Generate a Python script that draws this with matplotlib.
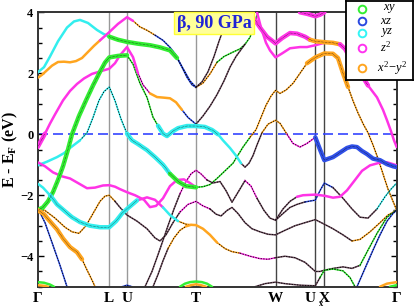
import numpy as np
import matplotlib
matplotlib.use("Agg")
import matplotlib.pyplot as plt

plt.rcParams['font.family'] = ['Liberation Serif', 'DejaVu Serif']
plt.rcParams['mathtext.fontset'] = 'custom'
plt.rcParams['mathtext.rm'] = 'Liberation Serif'
plt.rcParams['mathtext.it'] = 'Liberation Serif:italic'
plt.rcParams['mathtext.bf'] = 'Liberation Serif:bold'

# k-path (arbitrary path units) and labels
k_ticks = [37.7, 109.3, 127, 196, 275.5, 315.3, 324.3, 396.7]
k_labels = ['Γ', 'L', 'U', 'T', 'W', 'U', 'X', 'Γ']

# bands: k positions, energies (eV) and orbital character runs (start k, code)
# code: upper case = fat, lower case = medium, 'x.' = thin mixed, 'k' = plain
band_a_k = [37.7, 44, 50, 58, 67, 74, 80, 88, 97, 103, 109.3, 118, 127, 138, 150, 160, 170, 177, 184, 190, 196,
            203, 210, 217, 224, 232, 240, 245, 250, 254, 258]
band_a_e = [2.03, 2.2, 2.55, 3.05, 3.5, 3.7, 3.75, 3.65, 3.42, 3.3, 3.2, 3.1, 3.03, 2.97, 2.92, 2.85, 2.75, 2.5, 2.1,
            1.75, 1.54, 1.68, 1.98, 2.36, 2.55, 2.68, 2.8, 2.95, 3.18, 3.55, 4.0]
band_a_c = [(37.7, 'c'), (109.3, 'G'), (172, 'b.'), (194, 'o.'), (215, 'g.')]

band_b_k = [37.7, 42, 47, 52, 58, 64, 70, 76, 82, 88, 94, 100, 109.3, 118, 127, 133, 140, 147, 155, 163, 170, 176,
            182, 187, 192, 196, 202, 208, 214, 219, 223, 228]
band_b_e = [1.85, 1.95, 2.1, 2.25, 2.37, 2.38, 2.36, 2.4, 2.5, 2.7, 2.9, 3.08, 3.35, 3.62, 3.84, 3.72, 3.52, 3.41,
            3.25, 3.08, 2.85, 2.6, 2.2, 1.87, 1.62, 1.54, 1.72, 2.05, 2.55, 3.05, 3.41, 4.0]
band_b_c = [(37.7, 'o'), (100, 'm'), (130, 'o.'), (150, 'b.'), (196, 'k')]

band_c_k = [37.7, 41, 45, 50, 55, 63, 70, 77, 84, 92, 100, 109.3, 115, 120, 127, 133, 138, 143, 150, 157, 164, 170,
            176, 182, 188, 196, 203, 210, 217, 224, 230, 236, 242, 245]
band_c_e = [-0.42, -0.22, 0.02, 0.35, 0.65, 1.11, 1.42, 1.65, 1.83, 1.98, 2.06, 2.15, 2.33, 2.59, 2.86, 2.53, 2.0,
            1.62, 1.34, 1.22, 1.2, 1.18, 1.05, 0.8, 0.55, 0.33, 0.6, 0.92, 1.3, 1.75, 2.2, 2.55, 2.82, 2.95]
band_c_c = [(37.7, 'M'), (43, 'm'), (135, 'm.'), (145, 'o'), (178, 'b.'), (196, 'k')]

band_d_k = [37.7, 43, 48, 53, 58, 63, 68, 72, 79, 86, 93, 100, 105, 109.3, 118, 127, 133, 140, 147, 153, 158, 163,
            167, 172, 178, 187, 196, 205, 212, 218, 223, 230, 236, 241, 245, 249, 253, 257, 262, 268, 275.5, 280,
            287, 293, 300, 307, 315.3, 320, 324.3, 333, 340, 347, 352, 357, 362, 367, 373, 380, 387, 393, 396.7]
band_d_e = [-2.49, -2.4, -2.2, -1.9, -1.5, -1.05, -0.5, 0.0, 0.6, 1.11, 1.6, 2.05, 2.35, 2.52, 2.57, 2.59, 2.3,
            1.67, 1.21, 0.56, 0.28, 0.02, -0.06, 0.08, 0.2, 0.27, 0.27, 0.24, 0.14, 0.0, -0.2, -0.45, -0.7, -0.95,
            -1.08, -0.95, -0.7, -0.35, 0.05, 0.33, 0.46, 0.36, 0.0, -0.3, -0.42, -0.3, -0.1, -0.5, -0.85, -0.75,
            -0.6, -0.45, -0.4, -0.42, -0.55, -0.65, -0.8, -0.85, -0.98, -1.05, -1.08]
band_d_c = [(37.7, 'G'), (127, 'g.'), (158, 'C'), (218, 'c'), (241, 'k'), (260, 'o.'), (285, 'm.'), (315.3, 'B')]

band_e_k = [37.7, 47, 57, 64, 70, 76, 80, 87, 93, 99, 104, 109.3, 115, 121, 127, 132, 137, 147, 155, 163, 170, 178,
            186, 196, 203, 210, 217, 225, 233, 243, 250, 256, 261, 266, 271, 275.5, 280, 286, 293, 300, 307, 315.3,
            324.3, 333, 338, 343, 348, 353, 358, 363, 368, 373, 378, 383, 388, 393, 396.7]
band_e_e = [-1.02, -0.9, -0.75, -0.62, -0.45, -0.3, -0.2, 0.05, 0.55, 1.11, 1.4, 1.55, 1.1, 0.5, 0.02, -0.2, -0.3,
            -0.52, -0.75, -1.0, -1.3, -1.55, -1.7, -1.74, -1.72, -1.65, -1.45, -1.2, -0.95, -0.42, -0.1, 0.15,
            0.55, 0.95, 1.25, 1.44, 1.34, 1.45, 1.67, 2.0, 2.33, 2.52, 2.65, 2.64, 2.5, 2.0, 1.55, 1.1, 0.7, 0.35,
            0.05, -0.35, -0.8, -1.3, -1.8, -2.2, -2.49]
band_e_c = [(37.7, 'c'), (78, 'c.'), (125, 'C'), (168, 'G'), (196, 'g.'), (245, 'o.'), (305, 'O'), (348, 'o.')]

band_f_k = [37.7, 45, 53, 62, 70, 78, 87, 95, 103, 109.3, 115, 120, 127, 135, 144, 150, 156, 163, 170, 177, 184,
            190, 196]
band_f_e = [-0.92, -1.05, -1.25, -1.38, -1.45, -1.6, -1.77, -1.75, -1.68, -1.67, -1.72, -1.8, -1.9, -2.0, -2.15,
            -2.39, -2.35, -2.1, -1.7, -1.5, -1.48, -1.6, -1.74]
band_f_c = [(37.7, 'm')]

band_s_k = [145, 152, 158, 163, 168, 174, 180, 186, 191, 196, 201, 207, 213, 220, 226, 232, 239, 245, 251, 257,
            264, 270, 275.5, 283, 290, 297, 305, 315.3, 320, 324.3, 333, 343, 352, 360, 368, 377, 385, 391, 396.7]
band_s_e = [-5.0, -4.5, -3.95, -3.48, -3.0, -2.45, -1.95, -1.55, -1.3, -1.18, -1.3, -1.5, -1.6, -1.55, -1.85,
            -2.23, -1.85, -1.52, -1.7, -2.1, -2.5, -2.75, -2.82, -2.6, -2.4, -2.3, -2.22, -2.16, -1.85, -1.6,
            -1.75, -2.1, -2.45, -2.72, -2.75, -2.45, -2.05, -1.8, -1.6]
band_s_c = [(145, 'k'), (180, 'm.'), (205, 'k'), (240, 'm.'), (255, 'k'), (305, 'b.'), (330, 'k'), (377, 'c.')]

band_r_k = [275.5, 283, 290, 297, 303, 315.3, 325, 333, 340, 347, 355, 362, 370, 380, 387, 393, 396.7]
band_r_e = [-2.82, -2.45, -2.2, -2.05, -2.0, -1.98, -2.02, -2.08, -2.05, -1.84, -1.5, -1.2, -1.02, -0.93, -0.92,
            -0.98, -1.02]
band_r_c = [(275.5, 'k'), (297, 'm')]

band_g_k = [37.7, 45, 55, 65, 72, 79, 86, 93, 100, 105, 109.3, 115, 120, 127, 137, 147, 155, 160, 166, 173, 180,
            188, 196, 203, 210, 216, 221, 227, 232, 238, 245, 252, 260, 268, 275.5, 285, 295, 305, 315.3, 324.3,
            333, 343, 352, 360, 370, 380, 388, 396.7]
band_g_e = [-2.42, -2.5, -2.75, -3.05, -3.2, -3.25, -3.0, -2.6, -2.2, -2.03, -2.0, -2.2, -2.4, -2.65, -2.85, -3.1,
            -3.4, -3.5, -3.3, -2.9, -2.55, -2.3, -2.2, -2.35, -2.45, -2.62, -2.68, -2.5, -2.4, -2.6, -2.9, -3.1,
            -3.2, -3.28, -3.3, -3.15, -3.0, -2.9, -2.8, -2.95, -3.1, -3.3, -3.5, -3.45, -3.2, -2.9, -2.65, -2.49]
band_g_c = [(37.7, 'o.'), (115, 'k'), (180, 'm.'), (205, 'k'), (352, 'o.')]

band_h_k = [153, 158, 163, 168, 174, 180, 186, 191, 196, 203, 210, 217, 225, 232, 240, 250, 260, 268, 275.5, 285,
            295, 305, 315.3, 320, 324.3, 333, 343, 352, 360, 368, 377, 387, 396.7]
band_h_e = [-5.0, -4.6, -4.15, -3.75, -3.4, -3.15, -3.02, -2.97, -2.98, -3.1, -3.3, -3.55, -3.75, -3.85, -3.9, -4.0,
            -4.08, -4.1, -4.05, -4.0, -4.05, -4.2, -4.5, -4.5, -4.46, -4.4, -4.35, -4.4, -4.3, -3.8, -3.25, -2.72,
            -2.49]
band_h_c = [(153, 'k'), (168, 'o.'), (186, 'o'), (215, 'o.'), (237, 'm.'), (275.5, 'k'), (360, 'g.')]

band_n_k = [37.7, 43, 50, 57, 64, 72, 80, 90, 100, 109.3, 116, 122, 127, 137, 147, 155, 163, 170, 178, 186, 196]
band_n_e = [-1.62, -1.75, -2.0, -2.3, -2.5, -2.72, -2.88, -3.0, -3.05, -3.05, -2.85, -2.6, -2.45, -2.17, -2.07,
            -2.15, -2.4, -2.65, -2.85, -2.95, -2.98]
band_n_c = [(37.7, 'c'), (45, 'C'), (137, 'm'), (160, 'c'), (178, 'o.')]

band_k_k = [37.7, 45, 52, 60, 67]
band_k_e = [-2.42, -2.9, -3.55, -4.3, -5.0]
band_k_c = [(37.7, 'b.')]

band_o_k = [37.7, 44, 48, 57, 63, 70, 77, 82, 87, 93, 95]
band_o_e = [-2.49, -2.62, -2.78, -3.12, -3.42, -3.7, -3.87, -4.1, -4.45, -4.85, -5.0]
band_o_c = [(37.7, 'O'), (80, 'o.')]

band_m1_k = [250, 255, 260, 267, 275.5, 282, 290, 297, 305, 310, 315.3, 324.3, 333, 340, 345, 352, 360, 368, 377,
             383, 387, 391, 394, 396.7]
band_m1_e = [4.0, 3.75, 3.5, 3.2, 2.98, 3.15, 3.32, 3.3, 3.2, 3.1, 3.05, 3.02, 3.0, 2.95, 2.8, 2.4, 2.03, 1.6, 1.21,
             0.8, 0.46, 0.1, -0.2, -0.42]
band_m1_c = [(250, 'M'), (310, 'O'), (338, 'M'), (365, 'm')]

band_m2_k = [257, 261, 266, 270, 275.5, 282, 290, 300, 307, 315.3, 324.3]
band_m2_e = [4.0, 3.5, 3.0, 2.75, 2.52, 2.65, 2.82, 2.86, 2.86, 2.92, 3.0]
band_m2_c = [(257, 'm')]

band_t_k = [300, 307, 315.3, 320, 324.3]
band_t_e = [4.0, 3.95, 3.87, 3.92, 4.0]
band_t_c = [(300, 'M')]

band_p_k = [255, 265, 275.5, 285, 300, 315.3, 320, 324.3, 333, 343, 350, 355]
band_p_e = [-5.0, -4.9, -4.85, -4.9, -4.95, -4.97, -4.7, -4.46, -4.42, -4.48, -4.7, -5.0]
band_p_c = [(255, 'k'), (320, 'g.')]

band_q_k = [357, 365, 373, 380, 387, 393, 396.7]
band_q_e = [-5.0, -4.4, -3.8, -3.3, -2.85, -2.6, -2.49]
band_q_c = [(357, 'b.')]

band_u_k = [122, 127, 132]
band_u_e = [-5.0, -4.95, -5.0]
band_u_c = [(122, 'b.')]

arc1_k = [180, 185, 190, 196, 202, 207, 212]
arc1_e = [-5.0, -4.9, -4.85, -4.83, -4.85, -4.9, -5.0]
arc1_c = [(180, 'g')]
arc2_k = [186, 191, 196, 201, 206]
arc2_e = [-5.0, -4.95, -4.92, -4.95, -5.0]
arc2_c = [(186, 'o')]
gb1_k = [37.7, 44, 50, 54]
gb1_e = [-4.85, -4.87, -4.93, -5.0]
gb1_c = [(37.7, 'g')]
gb2_k = [37.7, 44, 48]
gb2_e = [-4.95, -4.97, -5.0]
gb2_c = [(37.7, 'o')]
gb3_k = [380, 387, 396.7]
gb3_e = [-5.0, -4.9, -4.85]
gb3_c = [(380, 'o')]
gb4_k = [390, 396.7]
gb4_e = [-5.0, -4.95]
gb4_c = [(390, 'g')]

bands = [
    (band_a_k, band_a_e, band_a_c), (band_b_k, band_b_e, band_b_c), (band_c_k, band_c_e, band_c_c),
    (band_d_k, band_d_e, band_d_c), (band_e_k, band_e_e, band_e_c), (band_f_k, band_f_e, band_f_c),
    (band_s_k, band_s_e, band_s_c), (band_r_k, band_r_e, band_r_c), (band_g_k, band_g_e, band_g_c),
    (band_h_k, band_h_e, band_h_c), (band_n_k, band_n_e, band_n_c), (band_k_k, band_k_e, band_k_c),
    (band_o_k, band_o_e, band_o_c), (band_m1_k, band_m1_e, band_m1_c), (band_m2_k, band_m2_e, band_m2_c),
    (band_t_k, band_t_e, band_t_c), (band_p_k, band_p_e, band_p_c), (band_q_k, band_q_e, band_q_c),
    (band_u_k, band_u_e, band_u_c), (arc1_k, arc1_e, arc1_c), (arc2_k, arc2_e, arc2_c),
    (gb1_k, gb1_e, gb1_c), (gb2_k, gb2_e, gb2_c), (gb3_k, gb3_e, gb3_c), (gb4_k, gb4_e, gb4_c),
]

colors = {'g': '#33ee33', 'b': '#3050e8', 'c': '#33eeee', 'm': '#ff33e6', 'o': '#ffa51f', 'k': '#6a4a5a'}
orbitals = ['xy', 'xz', 'yz', 'z^2', 'x^2\\!-\\!y^2']
orbital_colors = ['#33ee33', '#2a48e0', '#33f5f5', '#ff33f0', '#ffa51f']

fig = plt.figure(figsize=(4.15, 3.08), dpi=100)
ax = fig.add_axes([37.7 / 415, 1 - 286.7 / 308, 359 / 415, 274.4 / 308])


def runs(k, style):
    codes = []
    for i in range(len(k) - 1):
        c = style[0][1]
        for start, code in style:
            if k[i] >= start - 1e-6:
                c = code
        codes.append(c)
    out = []
    i0 = 0
    for i in range(1, len(codes) + 1):
        if i == len(codes) or codes[i] != codes[i0]:
            out.append((i0, i, codes[i0]))
            i0 = i
    return out


# thin parts first, medium next, fat parts on top
for level in ('thin', 'medium', 'fat'):
    for k, e, style in bands:
        for i0, i1, code in runs(k, style):
            kk = k[i0:i1 + 1]
            ee = e[i0:i1 + 1]
            col = colors[code[0].lower()]
            if code[0].isupper():
                if level == 'fat':
                    ax.plot(kk, ee, color=col, lw=3.2, solid_capstyle='round', zorder=4)
                    ax.plot(kk, ee, color='k', lw=0.4, ls=(0, (1, 1.5)), zorder=5)
            elif code.endswith('.') or code == 'k':
                if level == 'thin':
                    ax.plot(kk, ee, color=col, lw=1.1, zorder=2)
                    ax.plot(kk, ee, color='k', lw=0.6, ls=(0, (1.6, 1.6)), zorder=2.5)
            elif level == 'medium':
                ax.plot(kk, ee, color=col, lw=1.8, solid_capstyle='round', zorder=3)

for x in k_ticks[1:-1]:
    ax.axvline(x, color='#999999' if x < 200 else '#444444', lw=1.0, zorder=0.5)
ax.axhline(0, color='#3344ff', lw=1.2, ls=(0, (6, 3)), zorder=1)

ax.set_xlim(k_ticks[0], k_ticks[-1])
ax.set_ylim(-5, 4)
ax.set_yticks([-4, -2, 0, 2, 4])
ax.set_yticks(np.arange(-5, 4.01, 0.5), minor=True)
ax.tick_params(axis='y', which='both', direction='in', left=True, right=True, labelsize=9, pad=3)
ax.tick_params(axis='y', which='major', length=4.5, width=1)
ax.tick_params(axis='y', which='minor', length=3, width=1)
for lab in ax.get_yticklabels():
    lab.set_fontweight('bold')
ax.set_xticks(k_ticks)
ax.set_xticklabels(k_labels, fontsize=11, fontweight='bold')
ax.tick_params(axis='x', length=0, pad=4)
xt = ax.get_xticklabels()
xt[5].set_ha('right')
for sp in ax.spines.values():
    sp.set_linewidth(1.4)
    sp.set_color('#333333')
ax.set_ylabel(r'E - E$_{\mathbf{F}}$ (eV)', fontsize=11.5, fontweight='bold')
ax.yaxis.set_label_coords(-0.05, 0.5)
fig.text(321 / 415, 1 - 304.5 / 308, 'x', fontsize=6, fontweight='bold', ha='center', va='center')

fig.text(214 / 415, 1 - 23 / 308, 'β, 90 GPa', fontsize=13, fontweight='bold', color='#1f22d6',
         ha='center', va='center',
         bbox=dict(boxstyle='square,pad=0.12', facecolor='#ffff99', edgecolor='#ffff33', lw=1))

lax = fig.add_axes([346 / 415, 1 - 80 / 308, 67 / 415, 79 / 308])
lax.set_xlim(0, 1)
lax.set_ylim(0, 1)
lax.set_xticks([])
lax.set_yticks([])
for sp in lax.spines.values():
    sp.set_linewidth(1.3)
    sp.set_color('black')
ys = [0.9, 0.745, 0.6, 0.41, 0.155]
xs = [0.55, 0.5, 0.5, 0.5, 0.47]
for name, col, y, x in zip(orbitals, orbital_colors, ys, xs):
    lax.plot([0.24], [y], marker='o', ms=5.5, mfc='none', mec=col, mew=1.4)
    lax.text(x, y, '$' + name + '$', fontsize=9, ha='left', va='center')

fig.savefig('out.png', dpi=100)
